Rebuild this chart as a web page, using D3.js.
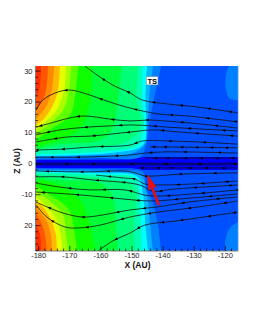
<!DOCTYPE html>
<html>
<head>
<meta charset="utf-8">
<script src="https://d3js.org/d3.v7.min.js"></script>
<style>
body{margin:0;background:#fff}
text{font-family:"Liberation Sans",Arial,sans-serif}
</style>
</head>
<body>
<div id="chart"></div>
<script>
// x / z ticks as printed on the plot
const xTicks = [-180,-170,-160,-150,-140,-130,-120];
const xTickLabels = ["-180","-170","-160","-150","-140","-130","-120"];
const zTicks = [30,20,10,0,-10,-20];
const zTickLabels = ["30","20","10","0","-10","20"];

// contour levels, low to high
const levelColors = ["#0080ff","#00b4ff","#00ffff","#00ffb0","#00ff78","#00ff38","#10ff00","#60ff00","#a8ff00","#e8ff00","#ffb800","#ff8800","#ff5400","#ff2c00"];
// each contour runs from the top edge to the left edge, [X, Z]
const upperContours = [
  [[-140.5,31.5],[-142.8,20.5],[-144.4,12.4],[-145.3,5.9],[-147.3,2],[-160.1,1.7],[-181,1.4]],
  [[-143.1,31.5],[-144.4,20.5],[-144.9,12.4],[-145.8,5.9],[-150.5,3],[-160.1,2.7],[-181,2]],
  [[-145,31.5],[-145.5,20.5],[-145.3,12.4],[-146.3,5.9],[-156.9,3.3],[-181,2.4]],
  [[-146.3,31.5],[-146.6,20.5],[-146,12.4],[-148,5.9],[-156.9,4],[-181,2.9]],
  [[-147.9,31.5],[-148.2,20.5],[-147,12.4],[-150.5,7.5],[-160.1,5.3],[-173,5],[-181,3.7]],
  [[-153,31.5],[-154,23.7],[-154.7,17.2],[-156.3,10.8],[-160.1,7.5],[-173,6.2],[-181,4.3]],
  [[-162.7,31.5],[-163.3,20.5],[-165.9,12.4],[-173,7.5],[-181,5.6]],
  [[-167.2,31.5],[-167.9,23.7],[-169.8,15.6],[-176.2,10.8],[-181,7.5]],
  [[-169.5,31.5],[-170.1,23.7],[-172,17.2],[-176.8,12.4],[-181,9.5]],
  [[-171.1,31.5],[-171.7,23.7],[-174,17.2],[-177.8,13.4],[-181,10.8]],
  [[-173,31.5],[-173.6,23.7],[-175.2,18.9],[-178.5,14],[-181,12.1]],
  [[-174.9,31.5],[-175.6,23.7],[-177.2,18.9],[-181,13.8]],
  [[-176.8,31.5],[-177.5,23.7],[-178.5,20.5],[-181,17.2]],
  [[-179.1,31.5],[-179.7,23.7],[-181,20.5]]
];
// same levels, from the bottom edge to the left edge
const lowerContours = [
  [[-140.5,-28.4],[-141.5,-20],[-143.4,-12],[-145.3,-8.6],[-146.3,-2.8],[-152.1,-2.2],[-181,-1.8]],
  [[-143.1,-28.4],[-144,-20],[-145,-10],[-147,-3.8],[-153.7,-2.8],[-160.1,-2.5],[-181,-2.2]],
  [[-144.7,-28.4],[-145.5,-20],[-146.3,-10],[-148,-4.4],[-160.1,-3.2],[-181,-2.5]],
  [[-146.6,-28.4],[-147,-20],[-147.3,-10.3],[-148.9,-4.8],[-160.1,-3.8],[-181,-2.9]],
  [[-148.9,-28.4],[-149.2,-20],[-148.6,-10.3],[-149.8,-7],[-160.1,-4.8],[-181,-3.8]],
  [[-154.3,-28.4],[-155,-20],[-156.3,-10.3],[-160.1,-6.4],[-173,-5.4],[-181,-4.4]],
  [[-161.7,-28.4],[-163.3,-20],[-166.6,-11.9],[-173,-7],[-181,-5.4]],
  [[-167.5,-28.4],[-168.2,-23.2],[-170.1,-15.1],[-176.2,-10.3],[-181,-7.3]],
  [[-170.4,-28.4],[-171.1,-23.2],[-172,-16.7],[-176.8,-11.9],[-181,-9]],
  [[-172.3,-28.4],[-172.7,-23.2],[-174.3,-17.7],[-177.2,-14.1],[-181,-10.6]],
  [[-174,-28.4],[-174.3,-23.2],[-175.9,-18.3],[-178.5,-14.1],[-181,-12.2]],
  [[-175.6,-28.4],[-175.9,-23.2],[-177.5,-18.3],[-181,-13.8]],
  [[-177.2,-28.4],[-177.8,-23.2],[-179.1,-19],[-181,-15.8]],
  [[-179.1,-28.4],[-179.4,-23.2],[-181,-19]]
];
// pale patches in the right corners
const cornerPatches = [
  [[-115.7,31.5],[-118.5,31.5],[-119.8,26],[-118.5,21],[-115.7,20.5]],
  [[-115.7,-19],[-118.5,-21],[-119.8,-25],[-119.5,-28.4],[-115.7,-28.4]]
];
// dark layer around Z = 0
const darkBand = [[-181,1.1],[-150,1.2],[-146,2],[-115.7,2],[-115.7,-2.2],[-146,-2.2],[-150,-1.5],[-181,-1.5]];
const darkCore = [[-181,0.4],[-115.7,0.4],[-115.7,-0.9],[-181,-0.9]];

const streamlines = [
  [[-165,31.5],[-161.1,28.6],[-156,25.3],[-150.5,22.8],[-146.6,20.5],[-138.3,19.2],[-128.6,18.2],[-115.7,16.3]],
  [[-180.7,17.2],[-178.5,20.5],[-173.6,23.1],[-169.8,23.7],[-165.6,22.8],[-156.9,19.8],[-150.5,17.9],[-141.5,16],[-131.8,15.3],[-115.8,13.4]],
  [[-180.7,11.7],[-174.6,13.4],[-169.8,14.7],[-165,15.3],[-156.9,14.3],[-150.5,13.7],[-144.7,14],[-139.2,13.7],[-130.6,13],[-115.8,11.4]],
  [[-180.7,9.2],[-173,10.8],[-164.3,11.7],[-156.9,12.1],[-150.5,12.4],[-143.4,12.1],[-138.3,11.7],[-122.2,10.8],[-115.8,10.5]],
  [[-180.7,6.9],[-170.8,8.5],[-163.4,8.8],[-150.5,10.1],[-143.1,10.8],[-134.4,10.1],[-115.8,8.8]],
  [[-180.7,4.3],[-172,4.6],[-162.7,5.3],[-150.5,5.9],[-146.6,7.2],[-137,7.2],[-128.6,6.9],[-115.8,6.2]],
  [[-144,5.3],[-130,5.2],[-115.8,5]],
  [[-180.7,2],[-165.6,2],[-150.5,2.7],[-145.7,3.3],[-138.6,3.7],[-115.8,3.3]],
  [[-145.7,1.7],[-130,1.7],[-115.8,1.7]],
  [[-180.7,-0.2],[-150,-0.2],[-115.8,-0.2]],
  [[-147.3,-1.5],[-130,-1.5],[-115.8,-1.5]],
  [[-180.7,-2.5],[-165.6,-2.8],[-152.1,-2.5],[-148.9,-3.1],[-145.7,-4.1],[-142.5,-4.1],[-133.8,-3.5],[-115.8,-3.1]],
  [[-161.4,-3.8],[-152.1,-4.8],[-148.9,-5.1],[-145.7,-6.7],[-140.2,-7],[-130.6,-6.7],[-115.8,-5.7]],
  [[-180.7,-4.4],[-172,-4.4],[-162.4,-5.4],[-150.5,-6.4],[-146.6,-7.3],[-143.4,-9],[-136,-8.3],[-115.8,-7]],
  [[-180.7,-6.4],[-173,-7.7],[-163.4,-8.6],[-152.1,-8.6],[-145.7,-10.3],[-141.5,-10.6],[-126.4,-9.6],[-115.8,-8.6]],
  [[-180.7,-9.3],[-170.8,-9.9],[-159.2,-10.9],[-152.1,-11.6],[-143.4,-12.2],[-130.6,-11.2],[-115.8,-9.9]],
  [[-180.7,-12.5],[-177.2,-14.1],[-172,-16.1],[-165.6,-17.4],[-159.2,-16.7],[-150.5,-15.1],[-141.5,-14.1],[-131.2,-12.5],[-115.8,-10.9]],
  [[-180.7,-13.5],[-177.2,-17.4],[-171.4,-20.6],[-166.6,-20.9],[-160.1,-20],[-150.5,-17.4],[-141.5,-15.8],[-131.2,-14.5],[-115.8,-12.2]],
  [[-160.8,-28.4],[-156,-25.1],[-150.5,-22.6],[-145.7,-20],[-136,-18.7],[-115.8,-15.8]]
];
// where the small arrowheads sit along each streamline
const arrowStops = [0.14,0.31,0.48,0.65,0.82,0.95];

const redArrowTip = [-145,-3.5];
const redArrowTail = [-141.2,-13.5];
const tsLabelAt = [-145.2,26.7];

//initialization
const width = 255, height = 330;
const margin = {top: 66, right: 17, bottom: 79, left: 35.5};
const svg = d3.select("#chart").append("svg")
    .attr("width", width)
    .attr("height", height)
    .style("display", "block");

const xScale = d3.scaleLinear().domain([-180, -120]).range([38.2, 224.8]);
const zScale = d3.scaleLinear().domain([30, -20]).range([70.6, 225.1]);
const plotRight = width - margin.right + 0.3;
const plotBottom = height - margin.bottom;

svg.append("clipPath").attr("id", "plot")
    .append("rect")
    .attr("x", margin.left).attr("y", margin.top)
    .attr("width", plotRight - margin.left)
    .attr("height", plotBottom - margin.top);

const plot = svg.append("g").attr("clip-path", "url(#plot)");
plot.append("rect")
    .attr("x", margin.left).attr("y", margin.top)
    .attr("width", plotRight - margin.left)
    .attr("height", plotBottom - margin.top)
    .attr("fill", "#0050ff");

const polygon = d3.line().x(d => xScale(d[0])).y(d => zScale(d[1]));
const smooth = d3.line().x(d => xScale(d[0])).y(d => zScale(d[1])).curve(d3.curveCatmullRom);

plot.selectAll(".patch").data(cornerPatches).enter().append("path")
    .attr("class", "patch")
    .attr("d", d => smooth(d) + "Z")
    .attr("fill", "#0080ff");
plot.append("path").attr("d", polygon(darkBand) + "Z").attr("fill", "#0000ff");
plot.append("path").attr("d", polygon(darkCore) + "Z").attr("fill", "#0000c8");

// low levels first, the higher ones paint over them
levelColors.forEach((c, i) => {
    const corner = (z) => polygon([[-181, z]]).replace("M", "L") + "Z";
    plot.append("path").attr("d", smooth(upperContours[i]) + corner(31.5)).attr("fill", c);
    plot.append("path").attr("d", smooth(lowerContours[i]) + corner(-28.4)).attr("fill", c);
});

const lines = plot.selectAll(".stream").data(streamlines).enter().append("path")
    .attr("class", "stream")
    .attr("d", smooth)
    .attr("fill", "none")
    .attr("stroke", "#101010")
    .attr("stroke-width", 0.8);

// arrowheads pointing back along the path
lines.each(function(d, i){
    const len = this.getTotalLength();
    arrowStops.forEach((s, j) => {
        const at = len * ((s + i * 0.037) % 1);
        const p = this.getPointAtLength(at);
        const q = this.getPointAtLength(Math.max(at - 1, 0));
        const angle = Math.atan2(q.y - p.y, q.x - p.x) * 180 / Math.PI;
        plot.append("path")
            .attr("d", "M2,0L-1.5,-1.4L-1.5,1.4Z")
            .attr("transform", "translate(" + p.x + "," + p.y + ") rotate(" + angle + ")")
            .attr("fill", "#000");
    });
});

// red arrow marking the shock crossing
const tip = [xScale(redArrowTip[0]), zScale(redArrowTip[1])];
const tail = [xScale(redArrowTail[0]), zScale(redArrowTail[1])];
const redAngle = Math.atan2(tip[1] - tail[1], tip[0] - tail[0]) * 180 / Math.PI;
const redLen = Math.hypot(tip[0] - tail[0], tip[1] - tail[1]);
svg.append("path")
    .attr("d", "M0,0L" + (redLen - 14) + ",0")
    .attr("transform", "translate(" + tail[0] + "," + tail[1] + ") rotate(" + redAngle + ")")
    .attr("stroke", "#e01018")
    .attr("stroke-width", 2.8)
    .attr("fill", "none");
svg.append("path")
    .attr("d", "M0,0L-16,-4.6L-14,0L-16,4.6Z")
    .attr("transform", "translate(" + tip[0] + "," + tip[1] + ") rotate(" + redAngle + ")")
    .attr("fill", "#e01018");

// TS tag
const tsG = svg.append("g").attr("transform", "translate(" + xScale(tsLabelAt[0]) + "," + zScale(tsLabelAt[1]) + ")");
tsG.append("rect").attr("x", 0).attr("y", -4).attr("width", 11.5).attr("height", 8)
    .attr("fill", "#fff").attr("stroke", "#999").attr("stroke-width", 0.5);
tsG.append("text").attr("x", 5.8).attr("y", 2.8).attr("text-anchor", "middle")
    .attr("font-size", 7.5).attr("font-weight", "bold").attr("fill", "#000").text("TS");

//axes
const xMinor = d3.range(-180, -116, 2).filter(v => !xTicks.includes(v));
const zMinor = d3.range(-28, 32, 2).filter(v => !zTicks.includes(v));

const xAxis = svg.append("g").attr("transform", "translate(0," + plotBottom + ")")
    .call(d3.axisBottom(xScale).tickValues(xTicks).tickSizeInner(-5).tickSizeOuter(0).tickPadding(2)
        .tickFormat((d, i) => xTickLabels[i]));
svg.append("g").attr("transform", "translate(0," + plotBottom + ")")
    .call(d3.axisBottom(xScale).tickValues(xMinor).tickSize(-2.5).tickFormat(""))
    .select(".domain").remove();
const zAxis = svg.append("g").attr("transform", "translate(" + margin.left + ",0)")
    .call(d3.axisLeft(zScale).tickValues(zTicks).tickSizeInner(-5).tickSizeOuter(0).tickPadding(3)
        .tickFormat((d, i) => zTickLabels[i]));
svg.append("g").attr("transform", "translate(" + margin.left + ",0)")
    .call(d3.axisLeft(zScale).tickValues(zMinor).tickSize(-2.5).tickFormat(""))
    .select(".domain").remove();

// the axis scale stops at the last tick, so stretch its line to the frame
xAxis.select(".domain").attr("d", "M" + margin.left + ",0H" + plotRight);
zAxis.select(".domain").attr("d", "M0," + margin.top + "V" + plotBottom);
svg.selectAll(".domain").attr("stroke", "#808080").attr("stroke-width", 1.2);
svg.selectAll(".tick line").attr("stroke", "#000").attr("stroke-width", 0.7);
svg.selectAll(".tick text").attr("font-size", 7.5).attr("font-family", '"Liberation Sans",Arial,sans-serif').attr("fill", "#222");

svg.append("line")
    .attr("x1", plotRight).attr("x2", plotRight)
    .attr("y1", margin.top).attr("y2", plotBottom)
    .attr("stroke", "#a8c8f0").attr("stroke-width", 0.8);

svg.append("text").attr("x", 137.5).attr("y", 267.5).attr("text-anchor", "middle")
    .attr("font-size", 8.5).attr("font-weight", "bold").attr("fill", "#111").text("X (AU)");
svg.append("text").attr("transform", "translate(20,161) rotate(-90)").attr("text-anchor", "middle")
    .attr("font-size", 8.5).attr("font-weight", "bold").attr("fill", "#111").text("Z (AU)");
</script>
</body>
</html>
